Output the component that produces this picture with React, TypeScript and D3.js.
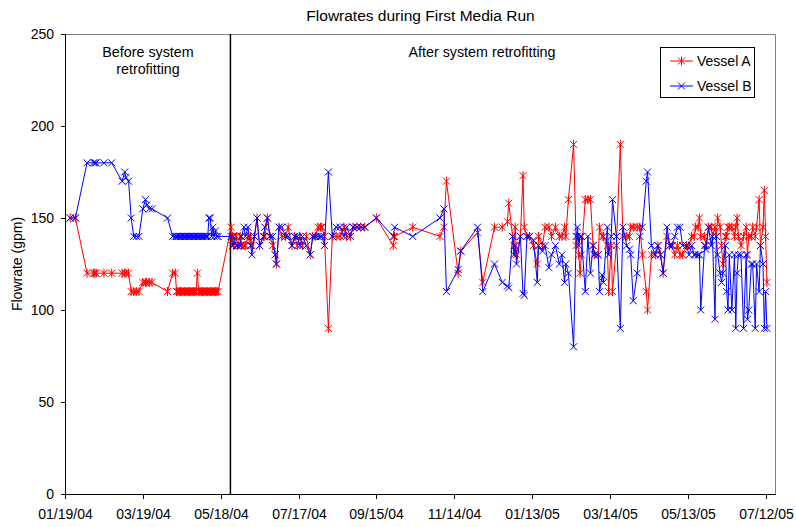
import * as d3 from 'd3'

// Day offsets from 01/19/04 for each sampling date
const START = new Date(2004, 0, 19)
const RETROFIT_DAY = 127.5

const days = [
  4, 8, 17, 22, 23, 24, 30, 36, 44, 46,
  47, 49, 51, 53, 55, 57, 60, 62, 63, 65,
  67, 79, 83, 85,
  86, 87, 88, 89, 90, 91, 92, 93, 94, 95,
  96, 97, 98, 99, 100, 101, 102, 103, 104, 105,
  106, 107, 108, 109, 110, 111, 112, 113, 114, 115,
  116, 117, 118,
  128, 129, 130, 132, 133, 135, 136, 138, 139, 141,
  143, 144, 146, 148, 150, 153, 154, 156, 158, 160,
  162, 163, 165, 167, 170, 172, 175, 177, 179, 181,
  183, 186, 189, 191, 193, 195, 197, 198, 200, 203,
  206, 209, 212, 215, 217, 220, 222, 225, 228, 231,
  240, 253, 254, 268, 289, 292, 294, 303, 305, 318,
  322, 331, 337, 341, 342, 345, 346, 347, 348, 351,
  353, 354, 356, 358, 361, 364, 365, 368, 370, 373,
  375, 378, 381, 383, 385, 386, 388, 392, 394, 395,
  396, 397, 398, 401, 403, 405, 407, 408, 411, 412,
  414, 415, 418, 419, 421, 422, 425, 428, 430, 433,
  435, 436, 438, 441, 443, 445, 448, 449, 452, 455,
  457, 459, 461, 464, 466, 468, 470, 472, 474, 476,
  479, 481, 483, 485, 486, 488, 489, 490, 493, 494,
  496, 498, 499, 501, 502, 503, 505, 506, 507, 509,
  510, 511, 512, 514, 516, 517, 518, 519, 521, 523,
  525, 526, 527, 529, 530, 532, 533, 535, 536, 538,
  539, 540, 541,
]

const vesselA = [
  150, 150, 120, 120, 120, 120, 120, 120, 120, 120,
  120, 120, 110, 110, 110, 110, 115, 115, 115, 115,
  115, 110, 120, 120,
  110, 110, 110, 110, 110, 110, 110, 110, 110, 110,
  110, 110, 110, 110, 110, 110, 120, 110, 110, 110,
  110, 110, 110, 110, 110, 110, 110, 110, 110, 110,
  110, 110, 110,
  145, 140, 135, 140, 135, 140, 135, 135, 135, 140,
  140, 135, 140, 150, 135, 140, 140, 150, 140, 135,
  130, 125, 145, 140, 140, 145, 135, 140, 135, 140,
  135, 140, 130, 140, 140, 145, 145, 145, 140, 90,
  140, 140, 140, 145, 140, 140, 145, 145, 145, 145,
  150, 135, 140, 145, 140, 145, 170, 120, 132, 142,
  115, 145, 145, 148, 158, 140, 135, 145, 130, 140,
  173, 145, 140, 140, 135, 125, 140, 135, 145, 145,
  140, 145, 140, 140, 145, 140, 160, 190, 135, 140,
  130, 120, 130, 160, 160, 160, 135, 130, 130, 145,
  140, 140, 135, 110, 135, 110, 135, 190, 140, 140,
  140, 145, 145, 145, 145, 130, 110, 100, 130, 130,
  135, 130, 120, 140, 135, 135, 130, 135, 130, 130,
  135, 135, 140, 140, 145, 145, 150, 140, 140, 135,
  145, 145, 140, 145, 140, 150, 145, 135, 125, 140,
  140, 145, 145, 145, 140, 145, 150, 140, 135, 140,
  145, 130, 140, 140, 145, 140, 145, 160, 135, 145,
  165, 140, 115,
]

const vesselB = [
  150, 150, 180, 180, 180, 180, 180, 180, 170, 175,
  172, 170, 150, 140, 140, 140, 155, 160, 157, 155,
  155, 150, 140, 140,
  140, 140, 140, 140, 140, 140, 140, 140, 140, 140,
  140, 140, 140, 140, 140, 140, 140, 140, 140, 140,
  140, 140, 140, 140, 140, 150, 150, 140, 145, 140,
  143, 140, 140,
  140, 135, 140, 135, 135, 135, 140, 145, 140, 145,
  135, 130, 140, 150, 135, 140, 145, 150, 140, 140,
  130, 125, 145, 145, 140, 140, 135, 140, 140, 135,
  140, 135, 130, 140, 140, 140, 140, 140, 135, 175,
  140, 145, 145, 140, 145, 140, 145, 145, 145, 145,
  150, 140, 145, 140, 150, 155, 110, 122, 132, 145,
  110, 125, 115, 113, 112, 140, 130, 135, 125, 140,
  109, 108, 140, 140, 138, 115, 135, 132, 135, 123,
  130, 135, 125, 130, 115, 125, 120, 80, 140, 145,
  135, 140, 140, 110, 140, 120, 135, 130, 130, 110,
  119, 115, 145, 130, 140, 160, 140, 90, 145, 135,
  133, 130, 105, 120, 140, 145, 170, 175, 135, 130,
  135, 130, 120, 145, 135, 135, 140, 145, 145, 135,
  135, 130, 135, 130, 130, 130, 130, 100, 135, 133,
  145, 135, 140, 95, 140, 130, 120, 115, 120, 135,
  110, 100, 130, 100, 130, 90, 120, 130, 130, 90,
  130, 95, 100, 125, 125, 90, 125, 110, 135, 125,
  90, 110, 90,
]

const yTicks = [0, 50, 100, 150, 200, 250]
const xTickDays = [0, 60, 120, 180, 240, 300, 360, 420, 480, 540]

const FONT = '"Liberation Sans", Arial, sans-serif'
const W = 796
const H = 527
const left = 65, right = 776, top = 34, bottom = 494

export default function App() {
  const x = d3.scaleTime()
    .domain([START, d3.timeDay.offset(START, 548)])
    .range([left, right])
  const y = d3.scaleLinear().domain([0, 250]).range([bottom, top])
  const fmt = d3.timeFormat('%m/%d/%y')

  const pts = days.map((d, i) => ({ date: d3.timeDay.offset(START, d), a: vesselA[i], b: vesselB[i] }))
  const lineA = d3.line<typeof pts[0]>().x((d) => x(d.date)).y((d) => y(d.a))
  const lineB = d3.line<typeof pts[0]>().x((d) => x(d.date)).y((d) => y(d.b))

  const star = 'M-3.5,-3.5L3.5,3.5M-3.5,3.5L3.5,-3.5M0,-4.5L0,4.5'
  const cross = 'M-3.5,-3.5L3.5,3.5M-3.5,3.5L3.5,-3.5'
  const retroX = x(START.getTime() + RETROFIT_DAY * 864e5)

  return (
    <svg width={W} height={H} style={{ position: 'absolute', left: 0, top: 0, background: '#fff' }} fontFamily={FONT}>
      <text x={(left + right) / 2} y={20.5} textAnchor="middle" fontSize={15.5} fill="#000">
        Flowrates during First Media Run
      </text>

      {/* plot frame */}
      <path d={`M${left},${top + 0.5}H${right - 0.5}V${bottom}`} fill="none" stroke="#808080" strokeWidth={1} />

      {/* retrofit marker */}
      <line x1={retroX} x2={retroX} y1={top} y2={bottom} stroke="#000" strokeWidth={1.5} />
      <text x={148} y={57} textAnchor="middle" fontSize={14.3} fill="#000">Before system</text>
      <text x={148} y={74} textAnchor="middle" fontSize={14.3} fill="#000">retrofitting</text>
      <text x={482} y={57} textAnchor="middle" fontSize={14.3} fill="#000">After system retrofitting</text>

      {/* series A */}
      <path d={lineA(pts) ?? ''} fill="none" stroke="#ff0000" strokeWidth={1} />
      {pts.map((d, i) => (
        <path key={'a' + i} d={star} transform={`translate(${x(d.date)},${y(d.a)})`} stroke="#ff0000" strokeWidth={1} fill="none" />
      ))}

      {/* series B */}
      <path d={lineB(pts) ?? ''} fill="none" stroke="#0000ff" strokeWidth={1} />
      {pts.map((d, i) => (
        <path key={'b' + i} d={cross} transform={`translate(${x(d.date)},${y(d.b)})`} stroke="#0000ff" strokeWidth={1} fill="none" />
      ))}

      {/* y axis */}
      <line x1={left + 0.5} x2={left + 0.5} y1={top} y2={bottom} stroke="#000" />
      {yTicks.map((t) => (
        <g key={t}>
          <line x1={left - 4} x2={left} y1={y(t) + 0.5} y2={y(t) + 0.5} stroke="#000" />
          <text x={left - 11} y={y(t)} dy="0.35em" textAnchor="end" fontSize={14} fill="#000">{t}</text>
        </g>
      ))}
      <text transform={`translate(22,${(top + bottom) / 2}) rotate(-90)`} textAnchor="middle" fontSize={14} fill="#000">
        Flowrate (gpm)
      </text>

      {/* x axis */}
      <line x1={left} x2={right} y1={bottom + 0.5} y2={bottom + 0.5} stroke="#000" />
      {xTickDays.map((t) => {
        const dt = d3.timeDay.offset(START, t)
        const px = Math.round(x(dt)) + 0.5
        return (
          <g key={t}>
            <line x1={px} x2={px} y1={bottom} y2={bottom + 5} stroke="#000" />
            <text x={px} y={519} textAnchor="middle" fontSize={14} fill="#000">{fmt(dt)}</text>
          </g>
        )
      })}

      {/* legend */}
      <rect x={660.5} y={47.5} width={94} height={50} fill="#fff" stroke="#000" />
      <line x1={670} x2={693} y1={61} y2={61} stroke="#ff0000" />
      <path d={star} transform="translate(681.5,61)" stroke="#ff0000" fill="none" />
      <text x={697} y={66} fontSize={14} fill="#000">Vessel A</text>
      <line x1={670} x2={693} y1={86} y2={86} stroke="#0000ff" />
      <path d={cross} transform="translate(681.5,86)" stroke="#0000ff" fill="none" />
      <text x={697} y={91} fontSize={14} fill="#000">Vessel B</text>
    </svg>
  )
}
